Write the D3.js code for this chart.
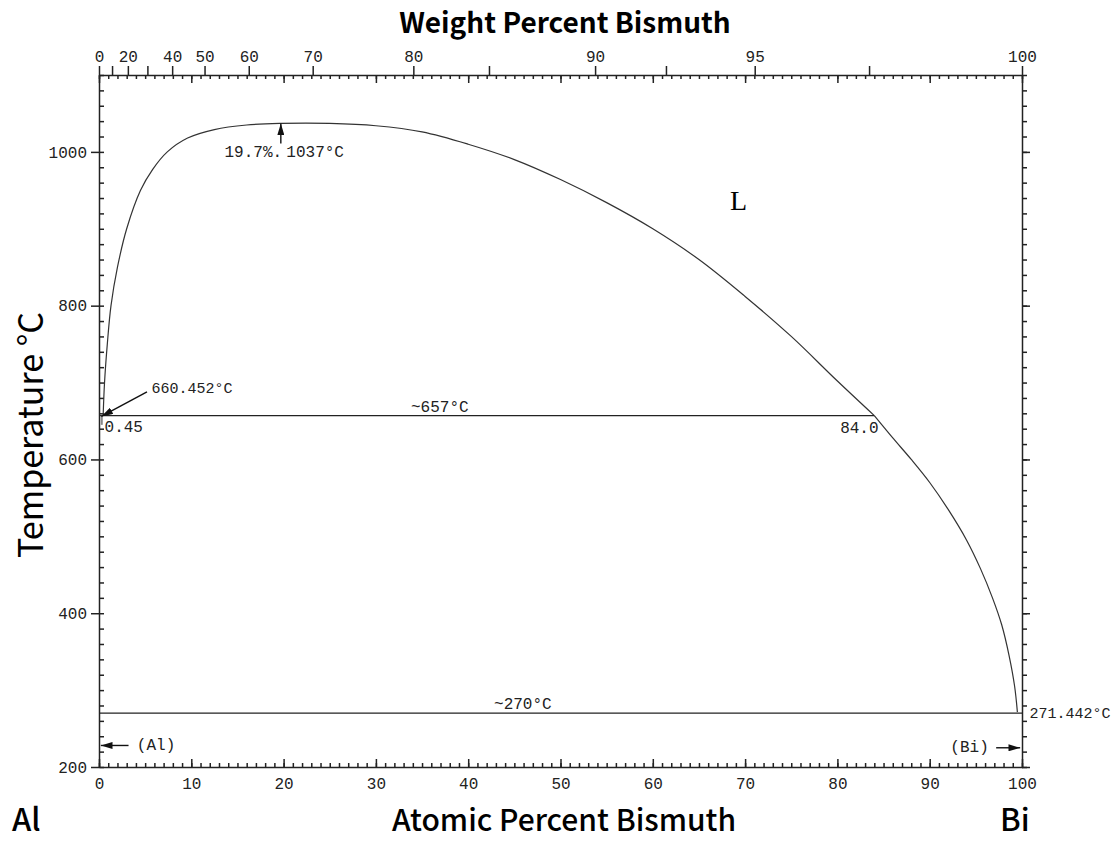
<!DOCTYPE html>
<html lang="en">
  <head>
    <meta charset="utf-8">
    <title>Al-Bi Phase Diagram</title>
    <script src="https://d3js.org/d3.v7.js"></script>
    <style>
      body { margin: 0; background: #fff; }
      .tick text { font-family: "Liberation Mono", monospace; font-size: 16px; fill: #222; }
      .ann { font-family: "Liberation Mono", monospace; font-size: 16px; fill: #222; }
      .title { font-family: "Noto Sans CJK SC", "Noto Sans", sans-serif; fill: #000; }
    </style>
  </head>
  <body>
    <script>

  // width and height
  var w = 1118;
  var h = 841;

  // liquidus dome (at.% Bi, deg C)
  var domeCurve = [
    [0.45, 657], [0.6, 700], [0.9, 750], [1.3, 800], [2.0, 850], [3.0, 900],
    [4.5, 950], [5.8, 977], [7.4, 1000], [9.6, 1018], [12.5, 1029], [16, 1035],
    [19.7, 1037], [25, 1037], [30, 1034], [35, 1026], [40, 1010], [45, 990],
    [50, 964], [55, 934], [60, 900], [65, 860], [70, 812], [75, 760], [80, 702], [84, 657]
  ];

  // liquidus below the monotectic
  var biLiquidus = [
    [84, 657], [86, 628], [88, 600], [90, 570], [92, 535], [94, 495],
    [95.5, 458], [96.8, 420], [97.8, 385], [98.6, 345], [99.2, 305], [99.5, 271.4]
  ];

  // invariant lines
  var isotherms = [
    { t: 657, x0: 0, x1: 84 },
    { t: 270, x0: 0, x1: 100 }
  ];

  // tick values
  var tempTicks = [200, 400, 600, 800, 1000];
  var tempMinor = d3.range(200, 1101, 20);
  var atTicks = d3.range(0, 101, 10);
  var atMinor = d3.range(0, 101, 1);
  var wtTicks = [0, 10, 20, 30, 40, 50, 60, 70, 80, 85, 90, 92.5, 95, 97.5, 100];
  var wtLabels = [0, 20, 40, 50, 60, 70, 80, 90, 95, 100];

  // weight percent -> atomic percent (Al 26.982, Bi 208.98)
  function atFromWt(p) {
    var nb = p / 208.98, na = (100 - p) / 26.982;
    return 100 * nb / (nb + na);
  }

  var x = d3.scaleLinear().domain([0, 100]).range([99, 1022]);
  var y = d3.scaleLinear().domain([200, 1100]).range([767, 75]);

  var svg = d3.select("body")
    .append("svg")
    .attr("width", w)
    .attr("height", h);

  // axes
  function style(g) {
    g.selectAll("path, line").attr("stroke", "#222").attr("stroke-width", 1.5);
  }

  // bottom
  svg.append("g").attr("transform", "translate(0,767)")
    .call(d3.axisBottom(x).tickValues(atMinor).tickSize(-4).tickFormat("").tickSizeOuter(0))
    .call(style).select(".domain").remove();
  svg.append("g").attr("transform", "translate(0,767)")
    .call(d3.axisBottom(x).tickValues(atTicks).tickSizeInner(-8).tickSizeOuter(0).tickPadding(11))
    .call(style);

  // top
  svg.append("g").attr("transform", "translate(0,75)")
    .call(d3.axisTop(x).tickValues(atMinor).tickSize(-4).tickFormat("").tickSizeOuter(0))
    .call(style).select(".domain").remove();
  svg.append("g").attr("transform", "translate(0,75)")
    .call(d3.axisTop(x).tickValues(atTicks).tickSize(-8).tickFormat("").tickSizeOuter(0))
    .call(style).select(".domain").remove();
  svg.append("g").attr("transform", "translate(0,75)")
    .call(d3.axisTop(x).tickValues(wtTicks.map(atFromWt)).tickSizeInner(9).tickSizeOuter(0).tickPadding(4)
      .tickFormat((d, i) => wtLabels.indexOf(wtTicks[i]) >= 0 ? wtTicks[i] : ""))
    .call(style);

  // left
  svg.append("g").attr("transform", "translate(99,0)")
    .call(d3.axisLeft(y).tickValues(tempMinor).tickSize(-5).tickFormat("").tickSizeOuter(0))
    .call(style).select(".domain").remove();
  svg.append("g").attr("transform", "translate(99,0)")
    .call(d3.axisLeft(y).tickValues(tempTicks).tickFormat(d3.format("d"))
      .tickSizeInner(8).tickSizeOuter(0).tickPadding(4))
    .call(style);

  // right
  svg.append("g").attr("transform", "translate(1022,0)")
    .call(d3.axisRight(y).tickValues(tempMinor).tickSize(5).tickFormat("").tickSizeOuter(0))
    .call(style).select(".domain").remove();
  svg.append("g").attr("transform", "translate(1022,0)")
    .call(d3.axisRight(y).tickValues(tempTicks).tickSize(8).tickFormat("").tickSizeOuter(0))
    .call(style);

  // phase boundaries
  var line = d3.line()
    .x(d => x(d[0]))
    .y(d => y(d[1]))
    .curve(d3.curveCatmullRom.alpha(0.5));

  svg.selectAll("path.bound")
    .data([domeCurve, biLiquidus])
    .enter()
    .append("path")
    .attr("class", "bound")
    .attr("d", line)
    .attr("fill", "none")
    .attr("stroke", "#333")
    .attr("stroke-width", 1.2);

  svg.selectAll("line.iso")
    .data(isotherms)
    .enter()
    .append("line")
    .attr("class", "iso")
    .attr("x1", d => x(d.x0))
    .attr("x2", d => x(d.x1))
    .attr("y1", d => y(d.t))
    .attr("y2", d => y(d.t))
    .attr("stroke", "#222")
    .attr("stroke-width", 1.3);

  // Al-side solvus stub
  svg.append("line")
    .attr("x1", x(0.3)).attr("x2", x(0.3))
    .attr("y1", y(657)).attr("y2", y(645))
    .attr("stroke", "#888").attr("stroke-width", 2);

  // arrow markers
  svg.append("defs").append("marker")
    .attr("id", "head")
    .attr("viewBox", "0 0 10 6")
    .attr("refX", 10).attr("refY", 3)
    .attr("markerWidth", 12).attr("markerHeight", 7)
    .attr("markerUnits", "userSpaceOnUse")
    .attr("orient", "auto")
    .append("path")
    .attr("d", "M0,0L10,3L0,6Z")
    .attr("fill", "#111");

  var arrows = [
    { x0: 5.2, t0: 688, x1: 0.25, t1: 656 },
    { x0: 19.7, t0: 1011, x1: 19.7, t1: 1037 },
    { x0: 3.2, t0: 228, x1: 0.2, t1: 228 },
    { x0: 97.2, t0: 225, x1: 99.8, t1: 225 }
  ];
  svg.selectAll("line.arrow")
    .data(arrows)
    .enter()
    .append("line")
    .attr("class", "arrow")
    .attr("x1", d => x(d.x0)).attr("y1", d => y(d.t0))
    .attr("x2", d => x(d.x1)).attr("y2", d => y(d.t1))
    .attr("stroke", "#111").attr("stroke-width", 1.4)
    .attr("marker-end", "url(#head)");

  // annotations
  var notes = [
    { x: 5.7, t: 686, s: "660.452°C", a: "start" },
    { x: 0.6, t: 636, s: "0.45", a: "start" },
    { x: 33.8, t: 662, s: "~657°C", a: "start" },
    { x: 80.3, t: 635, s: "84.0", a: "start" },
    { x: 13.6, t: 993, s: "19.7%.", a: "start" },
    { x: 20.3, t: 993, s: "1037°C", a: "start" },
    { x: 42.8, t: 276, s: "~270°C", a: "start" },
    { x: 100.8, t: 264, s: "271.442°C", a: "start" },
    { x: 4.1, t: 222, s: "(Al)", a: "start" },
    { x: 96.4, t: 219, s: "(Bi)", a: "end" }
  ];
  svg.selectAll("text.ann")
    .data(notes)
    .enter()
    .append("text")
    .attr("class", "ann")
    .attr("x", d => x(d.x))
    .attr("y", d => y(d.t))
    .attr("text-anchor", d => d.a)
    .style("font-size", d => d.s.length > 8 ? "15px" : null)
    .text(d => d.s);

  svg.append("text")
    .attr("x", x(69.3)).attr("y", y(924))
    .attr("text-anchor", "middle")
    .style("font-family", "Liberation Serif, serif")
    .style("font-size", "28px")
    .text("L");

  // titles
  svg.append("text").attr("class", "title")
    .attr("x", 565).attr("y", 33)
    .attr("text-anchor", "middle")
    .style("font-size", "28px").style("font-weight", "bold")
    .text("Weight Percent Bismuth");

  svg.append("text").attr("class", "title")
    .attr("x", 564).attr("y", 831)
    .attr("text-anchor", "middle")
    .style("font-size", "30px").style("font-weight", 500)
    .text("Atomic Percent Bismuth");

  svg.append("text").attr("class", "title")
    .attr("x", 12).attr("y", 831)
    .style("font-size", "31px").style("font-weight", 500)
    .text("Al");

  svg.append("text").attr("class", "title")
    .attr("x", 1000).attr("y", 831)
    .style("font-size", "31px").style("font-weight", 500)
    .text("Bi");

  svg.append("text").attr("class", "title")
    .attr("transform", "translate(43,435) rotate(-90)")
    .attr("text-anchor", "middle")
    .style("font-size", "34px")
    .text("Temperature °C");

    </script>
  </body>
</html>
